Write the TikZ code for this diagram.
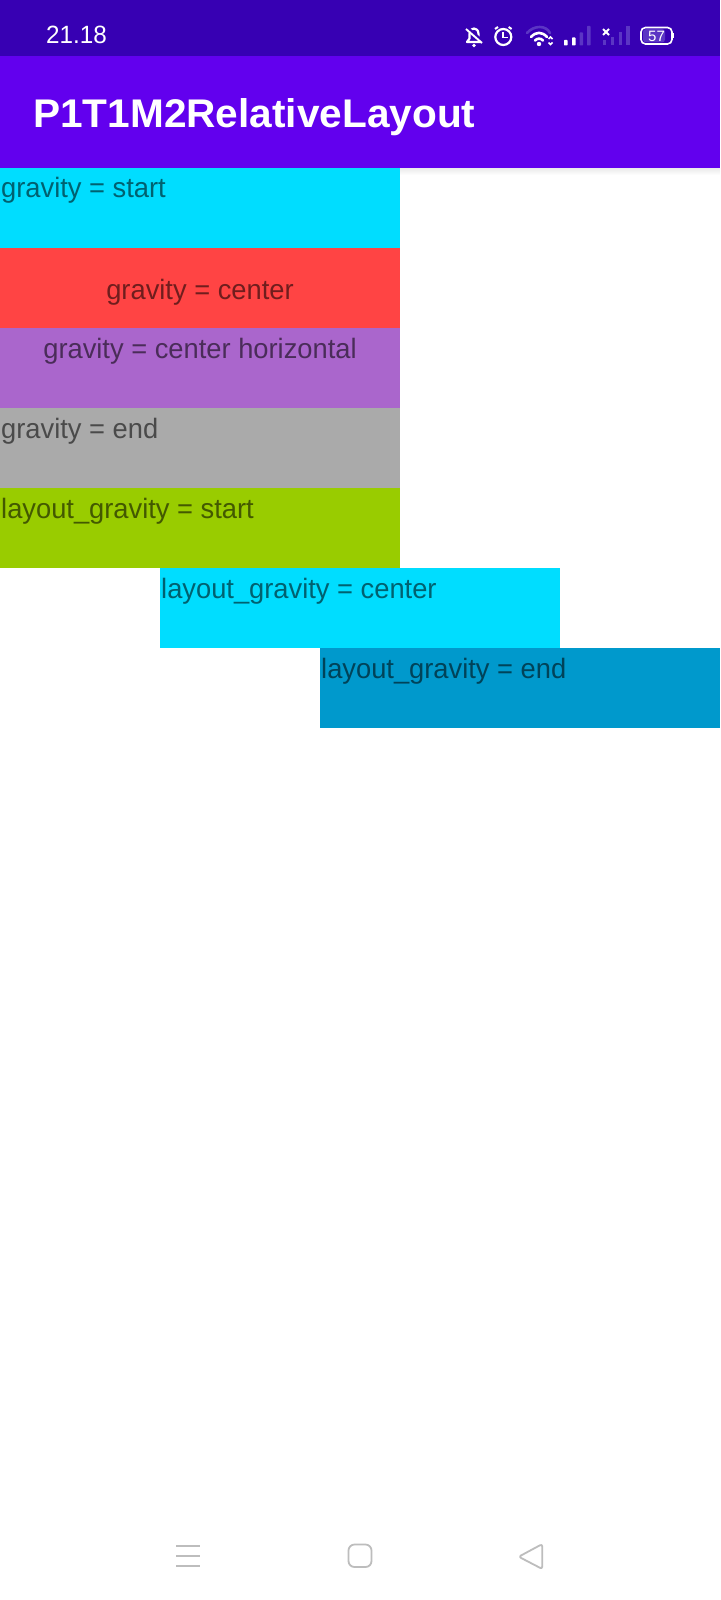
\documentclass[tikz,border=0pt]{standalone}
\usepackage{fontspec}
\setmainfont{Liberation Sans}
\newfontfamily\labelfont[FakeStretch=0.975]{Liberation Sans}
\newfontfamily\titlefont[FakeStretch=1.015]{Liberation Sans}
\newfontfamily\timefont[FakeStretch=0.97]{Liberation Sans}
\usetikzlibrary{shadings}
\definecolor{statusbar}{HTML}{3700B3}
\definecolor{appbar}{HTML}{6200EE}
\definecolor{holocyan}{HTML}{00DDFF}
\definecolor{holored}{HTML}{FF4444}
\definecolor{holopurple}{HTML}{AA66CC}
\definecolor{hologray}{HTML}{AAAAAA}
\definecolor{hologreen}{HTML}{99CC00}
\definecolor{holoblue}{HTML}{0099CC}
\definecolor{navgray}{HTML}{BDBDBD}
\definecolor{dimbar}{HTML}{5B35C4}
\tikzset{
  band/.style={anchor=north west,inner sep=0pt,outer sep=0pt,minimum width=400pt,minimum height=80pt,draw=none},
  label/.style={anchor=base west,inner sep=0pt,text=black,text opacity=0.56,font=\labelfont\fontsize{28}{28}\selectfont},
  labelmid/.style={label,anchor=base},
  icon/.style={draw=white,line width=2.2pt,fill=none},
  nav/.style={draw=navgray,line width=1.8pt,line join=round,fill=none},
}
\begin{document}
\begin{tikzpicture}[x=1pt,y=-1pt]
\useasboundingbox (0,0) rectangle (720,1600);
\fill[white] (0,0) rectangle (720,1600);
\shade[top color=black!8,bottom color=white] (0,168) rectangle (720,175);
\fill[statusbar] (0,0) rectangle (720,56);
\fill[appbar] (0,56) rectangle (720,168);
\node[anchor=base west,inner sep=0pt,text=white,font=\timefont\fontsize{25}{25}\selectfont] (time) at (46,44) {21.18};
\node[anchor=base west,inner sep=0pt,text=white,font=\titlefont\fontsize{40}{40}\selectfont\bfseries] (title) at (33,127.5) {P1T1M2RelativeLayout};
% bell (muted)
\draw[white,line width=2.2pt,line join=round] (467,42) -- (469.5,38.5) -- (469.5,34) .. controls (469.5,30) and (472,28.5) .. (474,28.5) .. controls (476,28.5) and (478.5,30) .. (478.5,34) -- (478.5,38.5) -- (481,42) -- cycle;
\draw[statusbar,line width=3.5pt] (466,27) -- (482,41);
\draw[white,line width=1.9pt] (466,29) -- (482,43);
\fill[white] (474,45.5) circle (1.9);
% alarm
\draw[icon] (503.3,37) circle (8);
\draw[white,line width=1.9pt] (503.3,32) -- (503.3,37.5) -- (507.5,37.5);
\draw[white,line width=2pt] (495,29) -- (498,27);
\draw[white,line width=2pt] (511.6,29) -- (508.6,27);
% wifi
\draw[dimbar,line width=2.6pt,line cap=round] (527,33) .. controls (534,25) and (546,25) .. (550,33);
\draw[white,line width=2.6pt,line cap=round] (531,37) .. controls (536,31.5) and (542,31.5) .. (547,37);
\draw[white,line width=2.6pt,line cap=round] (535,40.5) .. controls (537.5,38) and (540.5,38) .. (543,40.5);
\fill[white] (539,44) circle (2.2);
\draw[white,line width=1.6pt] (548.5,39) -- (550.5,37) -- (552.5,39) (548.5,42.5) -- (550.5,44.5) -- (552.5,42.5);
% signal 1
\fill[white,rounded corners=.6pt] (564,40) rectangle (567.5,45.5);
\fill[white,rounded corners=.6pt] (572,37.5) rectangle (575.5,45.5);
\fill[dimbar,rounded corners=.6pt] (579.5,32.5) rectangle (583,45.5);
\fill[dimbar,rounded corners=.6pt] (587,26) rectangle (590.5,45.5);
% signal 2
\fill[dimbar] (602.7,40) rectangle (606,45.5);
\fill[dimbar] (610.5,37.5) rectangle (614,45.5);
\fill[dimbar] (618.5,32.5) rectangle (622,45.5);
\fill[dimbar] (626,26) rectangle (629.5,45.5);
\draw[white,line width=1.9pt] (603,29) -- (609,35) (609,29) -- (603,35);
% battery
\fill[dimbar,rounded corners=3pt] (643,29) rectangle (665,42.5);
\draw[white,line width=1.6pt,rounded corners=4.5pt] (641,27.5) rectangle (672,44);
\fill[white] (673,33) rectangle (674,38.5);
\node[anchor=base,inner sep=0pt,text=white,font=\fontsize{15}{15}\selectfont] (batt) at (656.5,41.2) {57};
% bands
\node[band,fill=holocyan] (b1) at (0,168) {};
\node[band,fill=holored] (b2) at (0,248) {};
\node[band,fill=holopurple] (b3) at (0,328) {};
\node[band,fill=hologray] (b4) at (0,408) {};
\node[band,fill=hologreen] (b5) at (0,488) {};
\node[band,fill=holocyan] (b6) at (160,568) {};
\node[band,fill=holoblue] (b7) at (320,648) {};
% labels
\node[label] (t1) at (1,197) {gravity = start};
\node[labelmid] (t2) at (200,299) {gravity = center};
\node[labelmid] (t3) at (200,358) {gravity = center horizontal};
\node[label] (t4) at (1,438) {gravity = end};
\node[label] (t5) at (1,518) {layout\_gravity = start};
\node[label] (t6) at (161,598) {layout\_gravity = center};
\node[label] (t7) at (321,678) {layout\_gravity = end};
% navigation
\draw[nav] (176,1545.7) -- (200,1545.7) (176,1556) -- (200,1556) (176,1566.3) -- (200,1566.3);
\draw[nav,rounded corners=6pt] (348.5,1544.5) rectangle (371.5,1567);
\draw[nav,rounded corners=2.5pt] (542.3,1544) -- (542.3,1569) -- (518.7,1556.7) -- cycle;
\end{tikzpicture}
\end{document}
